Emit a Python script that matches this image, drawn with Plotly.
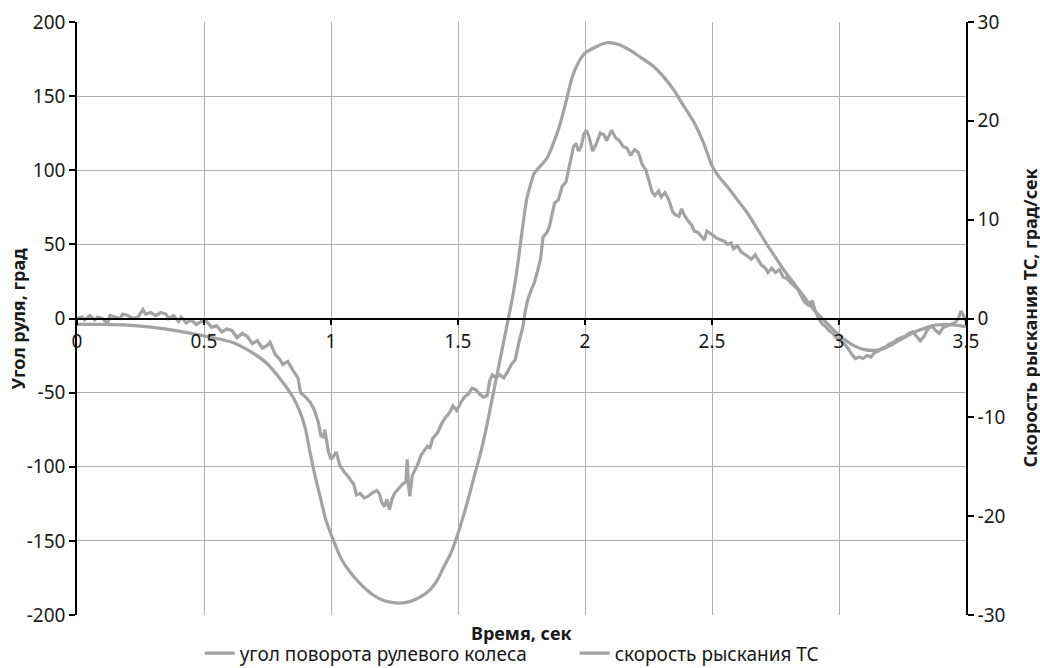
import plotly.graph_objects as go

# Steering wheel angle (deg), left axis
t_steer = [0, 0.1, 0.2, 0.3, 0.4, 0.48, 0.55, 0.61, 0.68, 0.746, 0.81, 0.85, 0.878, 0.9, 0.917,
           0.937, 0.957, 0.98, 1.008, 1.04, 1.075, 1.11, 1.14, 1.17, 1.205, 1.24, 1.27, 1.31, 1.35,
           1.39, 1.42, 1.44, 1.47, 1.496, 1.53, 1.56, 1.59, 1.61, 1.63, 1.65, 1.67, 1.69, 1.71, 1.73,
           1.744, 1.757, 1.77, 1.785, 1.80, 1.825, 1.85, 1.875, 1.90, 1.925, 1.95, 1.975, 2.0, 2.04,
           2.085, 2.13, 2.177, 2.22, 2.27, 2.31, 2.35, 2.39, 2.43, 2.47, 2.50, 2.53, 2.56, 2.60, 2.64,
           2.68, 2.72, 2.755, 2.79, 2.83, 2.87, 2.905, 2.94, 2.98, 3.02, 3.06, 3.1, 3.14, 3.18, 3.22,
           3.26, 3.3, 3.34, 3.38, 3.42, 3.46, 3.5]
steer = [-4, -4, -4.5, -6, -8.5, -11, -13.5, -16, -22, -30, -43, -53, -63, -75, -90,
         -106, -120, -136, -149, -162, -171, -178, -183, -187, -190, -191.5, -192, -191, -188,
         -183, -176, -169, -159, -147, -128, -109, -90, -75, -58, -41, -24, -7, 10, 30,
         48, 65, 80, 90, 98, 103, 108, 118, 130, 146, 163, 173, 179, 183,
         186, 185, 181, 176, 170, 163, 154, 143, 132, 117, 103, 95, 89, 80, 71,
         60, 49, 40, 31, 22, 13, 5, -1, -8, -14, -18.5, -21, -21.5, -20, -16.5,
         -12.5, -9, -6.5, -4.5, -4, -4.5, -5.5]

# Vehicle yaw rate (deg/s), right axis
t_yaw = [0.00, 0.02, 0.03, 0.05, 0.07, 0.08, 0.10, 0.12, 0.13, 0.15, 0.17, 0.18, 0.20, 0.22, 0.24,
         0.26, 0.27, 0.29, 0.31, 0.33, 0.35, 0.36, 0.38, 0.40, 0.41, 0.43, 0.45, 0.47, 0.49, 0.51,
         0.53, 0.55, 0.57, 0.59, 0.61, 0.63, 0.65, 0.67, 0.69, 0.71, 0.73, 0.75, 0.76, 0.78, 0.80,
         0.81, 0.83, 0.85, 0.87, 0.88, 0.90, 0.92, 0.935, 0.95, 0.96, 0.97, 0.976, 0.99, 1.00, 1.01,
         1.02, 1.035, 1.05, 1.065, 1.08, 1.09, 1.10, 1.115, 1.13, 1.145, 1.16, 1.18, 1.19, 1.20, 1.21,
         1.22, 1.23, 1.24, 1.25, 1.265, 1.28, 1.295, 1.30, 1.305, 1.31, 1.32, 1.33, 1.34, 1.355, 1.37,
         1.38, 1.39, 1.40, 1.42, 1.435, 1.45, 1.465, 1.48, 1.495, 1.51, 1.525, 1.54, 1.555, 1.57, 1.585,
         1.60, 1.615, 1.625, 1.635, 1.65, 1.665, 1.68, 1.695, 1.71, 1.725, 1.74, 1.755, 1.765, 1.775, 1.79,
         1.80, 1.81, 1.825, 1.835, 1.85, 1.86, 1.87, 1.88, 1.895, 1.91, 1.925, 1.935, 1.945, 1.955, 1.965,
         1.975, 1.985, 1.995, 2.005, 2.015, 2.03, 2.045, 2.06, 2.075, 2.085, 2.095, 2.105, 2.12, 2.135, 2.15,
         2.165, 2.18, 2.195, 2.21, 2.225, 2.24, 2.255, 2.265, 2.275, 2.29, 2.30, 2.315, 2.33, 2.345, 2.355,
         2.37, 2.38, 2.39, 2.405, 2.42, 2.43, 2.445, 2.46, 2.47, 2.48, 2.49, 2.505, 2.52, 2.535, 2.55,
         2.56, 2.575, 2.585, 2.60, 2.615, 2.625, 2.64, 2.655, 2.67, 2.68, 2.695, 2.71, 2.72, 2.735, 2.75,
         2.765, 2.78, 2.795, 2.81, 2.825, 2.84, 2.855, 2.865, 2.88, 2.895, 2.905, 2.92, 2.935, 2.945, 2.96,
         2.975, 2.99, 3.005, 3.02, 3.035, 3.05, 3.065, 3.08, 3.095, 3.11, 3.125, 3.14, 3.155, 3.17, 3.185,
         3.20, 3.215, 3.23, 3.245, 3.26, 3.275, 3.29, 3.305, 3.32, 3.335, 3.35, 3.365, 3.38, 3.395, 3.41,
         3.425, 3.44, 3.455, 3.47, 3.48, 3.49, 3.50]
yaw = [0.0, 0.15, -0.15, 0.3, -0.15, 0.15, 0.0, -0.45, 0.3, 0.15, 0.0, 0.45, 0.3, 0.0, 0.15,
       0.9, 0.45, 0.6, 0.3, 0.6, 0.45, 0.0, 0.3, -0.3, 0.15, -0.45, -0.15, -0.6, -0.3, -0.3,
       -0.9, -0.75, -1.35, -1.05, -1.2, -1.95, -1.5, -1.8, -2.55, -2.25, -3.0, -2.7, -2.4, -3.6, -4.2,
       -4.65, -4.35, -5.25, -6.0, -7.5, -7.95, -8.55, -9.3, -10.5, -11.85, -12.0, -11.25, -13.5, -14.25, -13.95,
       -13.5, -14.85, -15.45, -15.9, -16.5, -16.8, -17.85, -17.7, -18.15, -18.0, -17.7, -17.4, -17.7, -18.6, -19.05,
       -18.3, -19.35, -18.3, -17.7, -17.25, -16.8, -16.5, -14.25, -16.8, -18.0, -15.9, -15.45, -14.85, -13.8, -13.2,
       -12.9, -13.05, -12.15, -11.55, -10.65, -10.05, -9.6, -8.85, -9.3, -8.55, -7.95, -7.65, -7.05, -7.2, -7.65,
       -7.95, -7.8, -6.3, -5.7, -6.0, -5.7, -6.0, -5.4, -4.65, -4.2, -2.4, -0.9, 0.75, 1.95, 3.0,
       3.6, 4.5, 6.0, 8.25, 8.7, 9.3, 10.5, 11.7, 12.0, 13.35, 13.8, 15.0, 16.5, 17.4, 17.7,
       16.95, 17.4, 18.6, 19.05, 18.45, 16.95, 17.7, 18.75, 18.6, 18.0, 18.6, 19.05, 18.3, 18.0, 17.4,
       17.25, 16.5, 17.1, 16.8, 15.6, 15.0, 13.5, 12.75, 12.45, 12.9, 12.3, 12.75, 12.0, 10.8, 10.5,
       10.35, 11.1, 10.5, 9.9, 9.45, 8.85, 8.7, 8.25, 7.95, 8.85, 8.7, 8.4, 8.1, 7.95, 7.8,
       7.5, 7.65, 7.05, 7.35, 6.75, 6.6, 6.3, 6.0, 6.45, 6.0, 5.4, 5.1, 4.65, 5.1, 4.65,
       4.95, 4.2, 4.05, 3.6, 3.3, 2.85, 2.1, 1.65, 1.35, 1.8, 0.9, 0.0, -0.6, -0.75, -1.2,
       -1.5, -1.95, -2.25, -2.55, -3.0, -3.6, -4.05, -3.9, -4.05, -3.75, -3.9, -3.45, -3.3, -3.0, -2.85,
       -2.55, -2.4, -2.1, -1.95, -1.8, -1.5, -1.35, -1.8, -2.25, -1.8, -1.05, -0.75, -1.2, -1.5, -0.9,
       -0.75, -0.6, -0.45, 0.0, 0.75, 0.3, -0.3]

x_ticks = [0, 0.5, 1, 1.5, 2, 2.5, 3, 3.5]
x_tick_labels = ["0", "0.5", "1", "1.5", "2", "2.5", "3", "3.5"]
y_ticks = [-200, -150, -100, -50, 0, 50, 100, 150, 200]
y_tick_labels = ["-200", "-150", "-100", "-50", "0", "50", "100", "150", "200"]
y2_ticks = [-30, -20, -10, 0, 10, 20, 30]
y2_tick_labels = ["-30", "-20", "-10", "0", "10", "20", "30"]

name_steer = "угол поворота рулевого колеса"
name_yaw = "скорость рыскания ТС"

LINE = "#a3a3a3"
GRID = "#b0b0b0"
FONT = "Noto Sans"
TXT = "#1a1a1a"
TICKFONT = dict(family=FONT, size=19, color=TXT)
TITLEFONT = dict(family=FONT, size=18, color=TXT)

fig = go.Figure()
fig.add_trace(go.Scatter(x=t_steer, y=steer, mode="lines", name=name_steer,
                         line=dict(color=LINE, width=3.2, shape="spline", smoothing=0.6)))
fig.add_trace(go.Scatter(x=t_yaw, y=yaw, mode="lines", name=name_yaw, yaxis="y2",
                         line=dict(color=LINE, width=3.2)))

axis_common = dict(showline=True, linecolor="black", linewidth=1.5,
                   ticks="outside", ticklen=6, tickcolor="black", tickwidth=1.5,
                   zeroline=False, automargin=False, tickfont=TICKFONT)

fig.update_layout(
    width=1040, height=668,
    margin=dict(l=77, r=74, t=22, b=53),
    paper_bgcolor="white", plot_bgcolor="white",
    font=dict(family=FONT, size=18, color=TXT),
    showlegend=True,
    legend=dict(orientation="h", x=0.138, xanchor="left", xref="paper",
                y=0.022, yanchor="middle", yref="container",
                font=dict(family=FONT, size=19, color=TXT), itemwidth=30,
                entrywidth=330, entrywidthmode="pixels",
                borderwidth=0, bgcolor="rgba(0,0,0,0)"),
    xaxis=dict(range=[0, 3.5], tickvals=x_ticks, ticktext=x_tick_labels,
               showgrid=True, gridcolor=GRID, gridwidth=1,
               anchor="free", position=0.5, **axis_common),
    yaxis=dict(range=[-200, 200], tickvals=y_ticks, ticktext=y_tick_labels,
               showgrid=True, gridcolor=GRID, gridwidth=1, **axis_common),
    yaxis2=dict(range=[-30, 30], tickvals=y2_ticks, ticktext=y2_tick_labels,
                overlaying="y", side="right", showgrid=False, **axis_common),
    annotations=[
        dict(text="<b>Время, сек</b>", xref="paper", yref="paper", x=0.499, y=-0.030,
             showarrow=False, xanchor="center", yanchor="middle", font=TITLEFONT),
        dict(text="<b>Угол руля, град</b>", xref="paper", yref="paper", x=0, xshift=-60, y=0.5,
             textangle=-90, showarrow=False, xanchor="center", yanchor="middle", font=TITLEFONT),
        dict(text="<b>Скорость рыскания ТС, град/сек</b>", xref="paper", yref="paper",
             x=1, xshift=63, y=0.5, textangle=-90, showarrow=False, xanchor="center",
             yanchor="middle", font=TITLEFONT),
    ],
)

fig.write_html("out.html", config={"displayModeBar": False},
               post_script="document.body.style.margin='0';document.body.style.overflow='hidden';")
